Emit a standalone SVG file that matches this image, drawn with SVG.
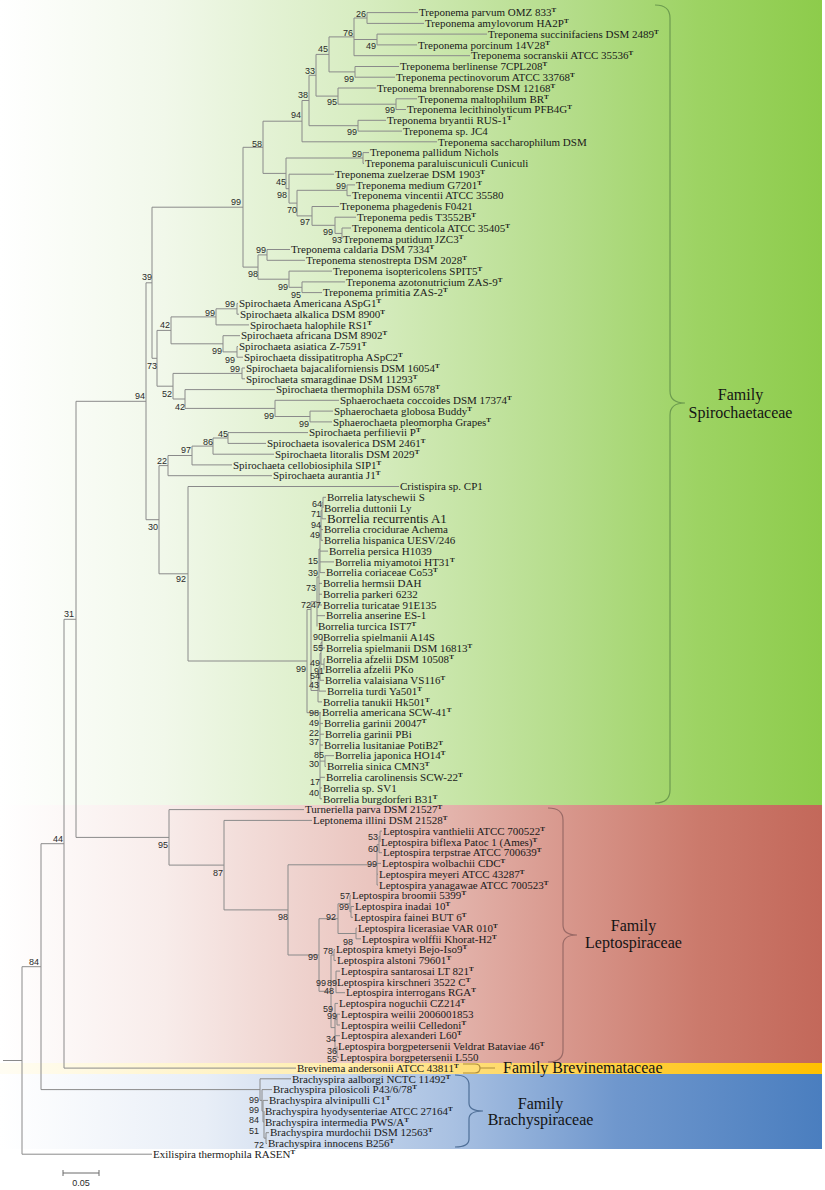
<svg xmlns="http://www.w3.org/2000/svg" width="825" height="1190" viewBox="0 0 825 1190">
<defs>
<linearGradient id="gG" gradientUnits="userSpaceOnUse" x1="0" y1="0" x2="822" y2="0">
<stop offset="0" stop-color="#ffffff"/><stop offset="0.2" stop-color="#f1f8ea"/><stop offset="0.45" stop-color="#d6ecbf"/><stop offset="0.7" stop-color="#b3dc88"/><stop offset="0.85" stop-color="#9dd363"/><stop offset="1" stop-color="#8dcc4b"/>
</linearGradient>
<linearGradient id="gR" gradientUnits="userSpaceOnUse" x1="0" y1="0" x2="822" y2="0">
<stop offset="0" stop-color="#ffffff"/><stop offset="0.2" stop-color="#f8ecea"/><stop offset="0.5" stop-color="#e7bdb6"/><stop offset="0.7" stop-color="#d7958a"/><stop offset="0.85" stop-color="#cb7a6c"/><stop offset="1" stop-color="#c3685a"/>
</linearGradient>
<linearGradient id="gY" gradientUnits="userSpaceOnUse" x1="0" y1="0" x2="822" y2="0">
<stop offset="0" stop-color="#fffdf3"/><stop offset="0.4" stop-color="#ffeeb0"/><stop offset="0.7" stop-color="#ffd24e"/><stop offset="1" stop-color="#ffc000"/>
</linearGradient>
<linearGradient id="gB" gradientUnits="userSpaceOnUse" x1="0" y1="0" x2="822" y2="0">
<stop offset="0" stop-color="#ffffff"/><stop offset="0.25" stop-color="#e8eef7"/><stop offset="0.55" stop-color="#a9c1e2"/><stop offset="0.75" stop-color="#6f97cd"/><stop offset="1" stop-color="#4a7ebf"/>
</linearGradient>
</defs>
<style>
.l{font-family:"Liberation Serif","Times New Roman",serif;font-size:11px;fill:#1a1a1a}
.big{font-size:13px}
.t{font-size:7px;font-weight:bold}
.b{font-family:"Liberation Sans",Arial,sans-serif;font-size:9px;fill:#2a2a2a;text-anchor:end}
.f{font-family:"Liberation Serif","Times New Roman",serif;font-size:16px;fill:#141414;text-anchor:middle}
.br{fill:none;stroke-width:1.2}
</style>
<g id="bands">
<rect x="0" y="0" width="822" height="805" fill="url(#gG)"/>
<rect x="0" y="805" width="822" height="258" fill="url(#gR)"/>
<rect x="0" y="1063" width="822" height="11" fill="url(#gY)"/>
<rect x="0" y="1074" width="822" height="75" fill="url(#gB)"/>
</g>
<g id="connectors" stroke="#8a8a8a" stroke-width="1" fill="none">
<path d="M367 12.6H418M367 23.4H424M377 34.1H487M377 44.9H417M354 55.7H470M355 66.5H399M355 77.2H395M338 88H376M396 98.8H417M396 109.5H406M358 120.3H386M358 131.1H402M302 141.8H437M363 152.6H369M363 163.4H364M289 174.2H334M347 184.9H355M347 195.7H351M312 206.5H339M335 217.2H356M342 228H351M267 249.5H290M267 260.3H305M289 271.1H332M302 281.9H345M302 292.6H322"/>
<path d="M367 12.6V23.4M354 18H367M377 34.1V44.9M354 39.5H377M354 18V55.7M329 36.9H354M355 66.5V77.2M329 71.9H355M329 36.9V71.9M316 54.4H329M396 98.8V109.5M338 104.2H396M338 88V104.2M316 96.1H338M316 54.4V96.1M309 75.3H316M358 120.3V131.1M309 125.7H358M309 75.3V125.7M302 100.5H309M302 100.5V141.8M263 121.2H302M363 152.6V163.4M286 158H363M347 184.9V195.7M297 190.3H347M342 228V238.8M335 233.4H342M335 217.2V233.4M312 225.3H335M312 206.5V225.3M297 215.9H312M297 190.3V215.9M289 203.1H297M289 174.2V203.1M286 188.7H289M286 158V188.7M263 173.4H286M263 121.2V173.4M243 147.3H263M267 249.5V260.3M258 254.9H267M302 281.9V292.6M289 287.3H302M289 271.1V287.3M258 279.2H289M258 254.9V279.2M243 267.1H258M243 147.3V267.1M152 207.2H243"/>
<path d="M237 303.4H238M237 314.2H239M216 324.9H249M223 335.7H240M237 346.5H238M237 357.2H243M242 368H245M242 378.8H245M185 389.6H275M275 400.3H339M310 411.1H333M310 421.9H332M228 432.6H308M228 443.4H266M213 454.2H274M192 464.9H232M168 475.7H272M188 486.5H399"/>
<path d="M237 303.4V314.2M216 308.8H237M216 308.8V324.9M171 316.9H216M237 346.5V357.2M223 351.9H237M223 335.7V351.9M171 343.8H223M171 316.9V343.8M157 330.4H171M242 368V378.8M173 373.4H242M310 411.1V421.9M275 416.5H310M275 400.3V416.5M185 408.4H275M185 389.6V408.4M173 399H185M173 373.4V399M157 386.2H173M157 330.4V386.2M152 358.3H157M152 207.2V358.3M146 282.8H152M228 432.6V443.4M213 438H228M213 438V454.2M192 446.1H213M192 446.1V464.9M168 455.5H192M168 455.5V475.7M159 465.6H168M188 486.5V661M159 573.8H188M159 465.6V573.8M146 519.7H159M146 282.8V519.7M76 401.3H146"/>
<path d="M323 497.3H326M322 518.8H326M321 529.6H323M321 540.3H323M320 551.1H328M320 561.9H334M320 572.6H325M319 583.4H322M319 594.2H322M319 605H322M317 615.7H325M323 497.3V508M322 502.7H323M322 502.7V518.8M321 510.7H322M321 510.7V540.3M320 525.5H321M320 525.5V572.6M319 549H320M319 549V605M317 577H319M317 577V626.5M311 601.7H317"/>
<path d="M322 648H325M324 658.8H325M320 680.3H324M319 691.1H326M318 701.9H322M322 637.3V648M321 642.6H322M324 658.8V669.6M321 664.2H324M321 642.6V664.2M320 653.4H321M320 653.4V680.3M319 666.9H320M319 666.9V691.1M318 679H319M318 679V701.9M311 690.5H318M311 601.7V690.5M307 609.5H311M307 609.5V712.7M188 661H307"/>
<path d="M307 712.7H321M320 723.4H323M320 734.2H324M320 745H323M325 755.7H334M325 766.5H326M320 777.3H325M320 788H322M320 798.8H322M320 712.7V798.8M325 755.7V766.5M320 761.1H325"/>
<path d="M169 809.6H304M224 820.4H312M380 831.1H382M379 852.7H382M377 863.4H381M377 874.2H378M377 885H378M380 831.1V841.9M379 836.5H380M379 836.5V852.7M377 844.6H379M377 844.6V885M288 864.8H377"/>
<path d="M350 895.7H351M351 906.5H354M351 917.3H353M351 906.5V917.3M350 911.9H351M350 895.7V911.9M338 903.8H350M356 928.1H357M356 938.8H361M356 928.1V938.8M338 933.5H356M338 903.8V933.5M319 918.7H338"/>
<path d="M334 949.6H335M334 960.4H336M334 949.6V960.4M331 955H334M336 971.1H340M336 992.7H345M336 971.1V992.7M331 981.9H336M335 1003.4H338M337 1014.2H340M337 1025H340M337 1014.2V1025M335 1019.6H337M335 1035.7H340M337 1057.3H339M337 1046.5V1057.3M335 1051.9H337M335 1003.4V1051.9M331 1027.6H335M331 955V1027.6M319 991.3H331M319 918.7V991.3M288 955H319M288 864.8V955M224 909.9H288M224 820.4V909.9M169 865.1H224M169 809.6V865.1M76 837.4H169M76 401.3V837.4M64 619.3H76"/>
<path d="M64 1068.1H296M64 619.3V1068.1M41 843.7H64M260 1078.8H291M262 1089.6H272M263 1100.4H268M266 1132.7H269M266 1143.5H267M260 1078.8V1100.4M41 1089.6H260M262 1089.6V1111.1M260 1100.4H262M263 1100.4V1121.9M262 1111.1H263M264 1111.1V1138.1M263 1121.9H264M266 1132.7V1143.5M264 1138.1H266M41 843.7V1089.6M22 966.7H41M22 1154.2H152M22 966.7V1154.2M3 1060.5H22"/>
</g>
<g id="bootstrap">
<text class="b" x="366" y="17">26</text>
<text class="b" x="353" y="36">76</text>
<text class="b" x="376" y="49">49</text>
<text class="b" x="328" y="52">45</text>
<text class="b" x="354" y="82">99</text>
<text class="b" x="315" y="74">33</text>
<text class="b" x="337" y="105">95</text>
<text class="b" x="395" y="113">99</text>
<text class="b" x="308" y="98">38</text>
<text class="b" x="357" y="135">99</text>
<text class="b" x="301" y="118">94</text>
<text class="b" x="262" y="147">58</text>
<text class="b" x="362" y="157">99</text>
<text class="b" x="286" y="185">45</text>
<text class="b" x="346" y="189">99</text>
<text class="b" x="287" y="198">98</text>
<text class="b" x="297" y="213">70</text>
<text class="b" x="310" y="225">97</text>
<text class="b" x="333" y="235">99</text>
<text class="b" x="342" y="243">93</text>
<text class="b" x="241" y="205">99</text>
<text class="b" x="266" y="253">99</text>
<text class="b" x="258" y="277">98</text>
<text class="b" x="288" y="290">99</text>
<text class="b" x="301" y="298">95</text>
<text class="b" x="235" y="307">99</text>
<text class="b" x="215" y="316">99</text>
<text class="b" x="170" y="328">42</text>
<text class="b" x="222" y="354">99</text>
<text class="b" x="235" y="363">99</text>
<text class="b" x="152" y="280">39</text>
<text class="b" x="157" y="369">73</text>
<text class="b" x="240" y="372">99</text>
<text class="b" x="172" y="397">52</text>
<text class="b" x="185" y="410">42</text>
<text class="b" x="274" y="419">99</text>
<text class="b" x="309" y="427">99</text>
<text class="b" x="145" y="399">94</text>
<text class="b" x="228" y="437">45</text>
<text class="b" x="213" y="445">86</text>
<text class="b" x="191" y="453">97</text>
<text class="b" x="167" y="464">22</text>
<text class="b" x="158" y="530">30</text>
<text class="b" x="186" y="582">92</text>
<text class="b" x="74" y="617">31</text>
<text class="b" x="322" y="507">64</text>
<text class="b" x="321" y="517">71</text>
<text class="b" x="321" y="528">94</text>
<text class="b" x="320" y="538">49</text>
<text class="b" x="318" y="564">15</text>
<text class="b" x="318" y="576">39</text>
<text class="b" x="316" y="591">73</text>
<text class="b" x="311" y="608">72</text>
<text class="b" x="321" y="608">47</text>
<text class="b" x="323" y="640">90</text>
<text class="b" x="323" y="651">55</text>
<text class="b" x="320" y="666">49</text>
<text class="b" x="324" y="674">91</text>
<text class="b" x="306" y="672">99</text>
<text class="b" x="320" y="679">54</text>
<text class="b" x="319" y="688">43</text>
<text class="b" x="319" y="716">98</text>
<text class="b" x="319" y="726">49</text>
<text class="b" x="319" y="736">22</text>
<text class="b" x="319" y="745">37</text>
<text class="b" x="324" y="758">85</text>
<text class="b" x="319" y="767">30</text>
<text class="b" x="320" y="785">17</text>
<text class="b" x="319" y="796">40</text>
<text class="b" x="168" y="848">95</text>
<text class="b" x="223" y="876">87</text>
<text class="b" x="378" y="840">53</text>
<text class="b" x="378" y="852">60</text>
<text class="b" x="377" y="867">99</text>
<text class="b" x="288" y="920">98</text>
<text class="b" x="350" y="899">57</text>
<text class="b" x="349" y="910">99</text>
<text class="b" x="336" y="920">92</text>
<text class="b" x="353" y="945">98</text>
<text class="b" x="318" y="960">99</text>
<text class="b" x="333" y="954">78</text>
<text class="b" x="326" y="986">99</text>
<text class="b" x="337" y="986">89</text>
<text class="b" x="334" y="994">48</text>
<text class="b" x="333" y="1012">59</text>
<text class="b" x="337" y="1019">99</text>
<text class="b" x="336" y="1042">34</text>
<text class="b" x="337" y="1054">36</text>
<text class="b" x="337" y="1062">55</text>
<text class="b" x="63" y="842">44</text>
<text class="b" x="39" y="965">84</text>
<text class="b" x="259" y="1103">99</text>
<text class="b" x="259" y="1113">99</text>
<text class="b" x="259" y="1123">84</text>
<text class="b" x="259" y="1134">51</text>
<text class="b" x="264" y="1148">72</text>
</g>
<g id="leaves">
<g id="leaf-0"><text class="l" x="419" y="16.3">Treponema parvum OMZ 833<tspan class="t" dy="-4">T</tspan></text></g>
<g id="leaf-1"><text class="l" x="425" y="27.1">Treponema amylovorum HA2P<tspan class="t" dy="-4">T</tspan></text></g>
<g id="leaf-2"><text class="l" x="488" y="37.8">Treponema succinifaciens DSM 2489<tspan class="t" dy="-4">T</tspan></text></g>
<g id="leaf-3"><text class="l" x="418" y="48.6">Treponema porcinum 14V28<tspan class="t" dy="-4">T</tspan></text></g>
<g id="leaf-4"><text class="l" x="471" y="59.4">Treponema socranskii ATCC 35536<tspan class="t" dy="-4">T</tspan></text></g>
<g id="leaf-5"><text class="l" x="400" y="70.2">Treponema berlinense 7CPL208<tspan class="t" dy="-4">T</tspan></text></g>
<g id="leaf-6"><text class="l" x="396" y="80.9">Treponema pectinovorum ATCC 33768<tspan class="t" dy="-4">T</tspan></text></g>
<g id="leaf-7"><text class="l" x="377" y="91.7">Treponema brennaborense DSM 12168<tspan class="t" dy="-4">T</tspan></text></g>
<g id="leaf-8"><text class="l" x="418" y="102.5">Treponema maltophilum BR<tspan class="t" dy="-4">T</tspan></text></g>
<g id="leaf-9"><text class="l" x="407" y="113.2">Treponema lecithinolyticum PFB4G<tspan class="t" dy="-4">T</tspan></text></g>
<g id="leaf-10"><text class="l" x="387" y="124">Treponema bryantii RUS-1<tspan class="t" dy="-4">T</tspan></text></g>
<g id="leaf-11"><text class="l" x="403" y="134.8">Treponema sp. JC4</text></g>
<g id="leaf-12"><text class="l" x="438" y="145.5">Treponema saccharophilum DSM</text></g>
<g id="leaf-13"><text class="l" x="370" y="156.3">Treponema pallidum Nichols</text></g>
<g id="leaf-14"><text class="l" x="365" y="167.1">Treponema paraluiscuniculi Cuniculi</text></g>
<g id="leaf-15"><text class="l" x="335" y="177.9">Treponema zuelzerae DSM 1903<tspan class="t" dy="-4">T</tspan></text></g>
<g id="leaf-16"><text class="l" x="356" y="188.6">Treponema medium G7201<tspan class="t" dy="-4">T</tspan></text></g>
<g id="leaf-17"><text class="l" x="352" y="199.4">Treponema vincentii ATCC 35580</text></g>
<g id="leaf-18"><text class="l" x="340" y="210.2">Treponema phagedenis F0421</text></g>
<g id="leaf-19"><text class="l" x="357" y="220.9">Treponema pedis T3552B<tspan class="t" dy="-4">T</tspan></text></g>
<g id="leaf-20"><text class="l" x="352" y="231.7">Treponema denticola ATCC 35405<tspan class="t" dy="-4">T</tspan></text></g>
<g id="leaf-21"><text class="l" x="343" y="242.5">Treponema putidum JZC3<tspan class="t" dy="-4">T</tspan></text></g>
<g id="leaf-22"><text class="l" x="291" y="253.2">Treponema caldaria DSM 7334<tspan class="t" dy="-4">T</tspan></text></g>
<g id="leaf-23"><text class="l" x="306" y="264">Treponema stenostrepta DSM 2028<tspan class="t" dy="-4">T</tspan></text></g>
<g id="leaf-24"><text class="l" x="333" y="274.8">Treponema isoptericolens SPIT5<tspan class="t" dy="-4">T</tspan></text></g>
<g id="leaf-25"><text class="l" x="346" y="285.6">Treponema azotonutricium ZAS-9<tspan class="t" dy="-4">T</tspan></text></g>
<g id="leaf-26"><text class="l" x="323" y="296.3">Treponema primitia ZAS-2<tspan class="t" dy="-4">T</tspan></text></g>
<g id="leaf-27"><text class="l" x="239" y="307.1">Spirochaeta Americana ASpG1<tspan class="t" dy="-4">T</tspan></text></g>
<g id="leaf-28"><text class="l" x="240" y="317.9">Spirochaeta alkalica DSM 8900<tspan class="t" dy="-4">T</tspan></text></g>
<g id="leaf-29"><text class="l" x="250" y="328.6">Spirochaeta halophile RS1<tspan class="t" dy="-4">T</tspan></text></g>
<g id="leaf-30"><text class="l" x="241" y="339.4">Spirochaeta africana DSM 8902<tspan class="t" dy="-4">T</tspan></text></g>
<g id="leaf-31"><text class="l" x="239" y="350.2">Spirochaeta asiatica Z-7591<tspan class="t" dy="-4">T</tspan></text></g>
<g id="leaf-32"><text class="l" x="244" y="360.9">Spirochaeta dissipatitropha ASpC2<tspan class="t" dy="-4">T</tspan></text></g>
<g id="leaf-33"><text class="l" x="246" y="371.7">Spirochaeta bajacaliforniensis DSM 16054<tspan class="t" dy="-4">T</tspan></text></g>
<g id="leaf-34"><text class="l" x="246" y="382.5">Spirochaeta smaragdinae DSM 11293<tspan class="t" dy="-4">T</tspan></text></g>
<g id="leaf-35"><text class="l" x="276" y="393.3">Spirochaeta thermophila DSM 6578<tspan class="t" dy="-4">T</tspan></text></g>
<g id="leaf-36"><text class="l" x="340" y="404">Sphaerochaeta coccoides DSM 17374<tspan class="t" dy="-4">T</tspan></text></g>
<g id="leaf-37"><text class="l" x="334" y="414.8">Sphaerochaeta globosa Buddy<tspan class="t" dy="-4">T</tspan></text></g>
<g id="leaf-38"><text class="l" x="333" y="425.6">Sphaerochaeta pleomorpha Grapes<tspan class="t" dy="-4">T</tspan></text></g>
<g id="leaf-39"><text class="l" x="309" y="436.3">Spirochaeta perfilievii P<tspan class="t" dy="-4">T</tspan></text></g>
<g id="leaf-40"><text class="l" x="267" y="447.1">Spirochaeta isovalerica DSM 2461<tspan class="t" dy="-4">T</tspan></text></g>
<g id="leaf-41"><text class="l" x="275" y="457.9">Spirochaeta litoralis DSM 2029<tspan class="t" dy="-4">T</tspan></text></g>
<g id="leaf-42"><text class="l" x="233" y="468.6">Spirochaeta cellobiosiphila SIP1<tspan class="t" dy="-4">T</tspan></text></g>
<g id="leaf-43"><text class="l" x="273" y="479.4">Spirochaeta aurantia J1<tspan class="t" dy="-4">T</tspan></text></g>
<g id="leaf-44"><text class="l" x="400" y="490.2">Cristispira sp. CP1</text></g>
<g id="leaf-45"><text class="l" x="327" y="501">Borrelia latyschewii S</text></g>
<g id="leaf-46"><text class="l" x="324" y="511.7">Borrelia duttonii Ly</text></g>
<g id="leaf-47"><text class="l big" x="327" y="523.3">Borrelia recurrentis A1</text></g>
<g id="leaf-48"><text class="l" x="324" y="533.3">Borrelia crocidurae Achema</text></g>
<g id="leaf-49"><text class="l" x="324" y="544">Borrelia hispanica UESV/246</text></g>
<g id="leaf-50"><text class="l" x="329" y="554.8">Borrelia persica H1039</text></g>
<g id="leaf-51"><text class="l" x="335" y="565.6">Borrelia miyamotoi HT31<tspan class="t" dy="-4">T</tspan></text></g>
<g id="leaf-52"><text class="l" x="326" y="576.3">Borrelia coriaceae Co53<tspan class="t" dy="-4">T</tspan></text></g>
<g id="leaf-53"><text class="l" x="323" y="587.1">Borrelia hermsii DAH</text></g>
<g id="leaf-54"><text class="l" x="323" y="597.9">Borrelia parkeri 6232</text></g>
<g id="leaf-55"><text class="l" x="323" y="608.7">Borrelia turicatae 91E135</text></g>
<g id="leaf-56"><text class="l" x="326" y="619.4">Borrelia anserine ES-1</text></g>
<g id="leaf-57"><text class="l" x="318" y="630.2">Borrelia turcica IST7<tspan class="t" dy="-4">T</tspan></text></g>
<g id="leaf-58"><text class="l" x="323" y="641">Borrelia spielmanii A14S</text></g>
<g id="leaf-59"><text class="l" x="326" y="651.7">Borrelia spielmanii DSM 16813<tspan class="t" dy="-4">T</tspan></text></g>
<g id="leaf-60"><text class="l" x="326" y="662.5">Borrelia afzelii DSM 10508<tspan class="t" dy="-4">T</tspan></text></g>
<g id="leaf-61"><text class="l" x="325" y="673.3">Borrelia afzelii PKo</text></g>
<g id="leaf-62"><text class="l" x="325" y="684">Borrelia valaisiana VS116<tspan class="t" dy="-4">T</tspan></text></g>
<g id="leaf-63"><text class="l" x="327" y="694.8">Borrelia turdi Ya501<tspan class="t" dy="-4">T</tspan></text></g>
<g id="leaf-64"><text class="l" x="323" y="705.6">Borrelia tanukii Hk501<tspan class="t" dy="-4">T</tspan></text></g>
<g id="leaf-65"><text class="l" x="322" y="716.4">Borrelia americana SCW-41<tspan class="t" dy="-4">T</tspan></text></g>
<g id="leaf-66"><text class="l" x="324" y="727.1">Borrelia garinii 20047<tspan class="t" dy="-4">T</tspan></text></g>
<g id="leaf-67"><text class="l" x="325" y="737.9">Borrelia garinii PBi</text></g>
<g id="leaf-68"><text class="l" x="324" y="748.7">Borrelia lusitaniae PotiB2<tspan class="t" dy="-4">T</tspan></text></g>
<g id="leaf-69"><text class="l" x="335" y="759.4">Borrelia japonica HO14<tspan class="t" dy="-4">T</tspan></text></g>
<g id="leaf-70"><text class="l" x="327" y="770.2">Borrelia sinica CMN3<tspan class="t" dy="-4">T</tspan></text></g>
<g id="leaf-71"><text class="l" x="326" y="781">Borrelia carolinensis SCW-22<tspan class="t" dy="-4">T</tspan></text></g>
<g id="leaf-72"><text class="l" x="323" y="791.7">Borrelia sp. SV1</text></g>
<g id="leaf-73"><text class="l" x="323" y="802.5">Borrelia burgdorferi B31<tspan class="t" dy="-4">T</tspan></text></g>
<g id="leaf-74"><text class="l" x="305" y="813.3">Turneriella parva DSM 21527<tspan class="t" dy="-4">T</tspan></text></g>
<g id="leaf-75"><text class="l" x="313" y="824.1">Leptonema illini DSM 21528<tspan class="t" dy="-4">T</tspan></text></g>
<g id="leaf-76"><text class="l" x="383" y="834.8">Leptospira vanthielii ATCC 700522<tspan class="t" dy="-4">T</tspan></text></g>
<g id="leaf-77"><text class="l" x="381" y="845.6">Leptospira biflexa Patoc 1 (Ames)<tspan class="t" dy="-4">T</tspan></text></g>
<g id="leaf-78"><text class="l" x="383" y="856.4">Leptospira terpstrae ATCC 700639<tspan class="t" dy="-4">T</tspan></text></g>
<g id="leaf-79"><text class="l" x="382" y="867.1">Leptospira wolbachii CDC<tspan class="t" dy="-4">T</tspan></text></g>
<g id="leaf-80"><text class="l" x="379" y="877.9">Leptospira meyeri ATCC 43287<tspan class="t" dy="-4">T</tspan></text></g>
<g id="leaf-81"><text class="l" x="379" y="888.7">Leptospira yanagawae ATCC 700523<tspan class="t" dy="-4">T</tspan></text></g>
<g id="leaf-82"><text class="l" x="352" y="899.4">Leptospira broomii 5399<tspan class="t" dy="-4">T</tspan></text></g>
<g id="leaf-83"><text class="l" x="355" y="910.2">Leptospira inadai 10<tspan class="t" dy="-4">T</tspan></text></g>
<g id="leaf-84"><text class="l" x="354" y="921">Leptospira fainei BUT 6<tspan class="t" dy="-4">T</tspan></text></g>
<g id="leaf-85"><text class="l" x="358" y="931.8">Leptospira licerasiae VAR 010<tspan class="t" dy="-4">T</tspan></text></g>
<g id="leaf-86"><text class="l" x="362" y="942.5">Leptospira wolffii Khorat-H2<tspan class="t" dy="-4">T</tspan></text></g>
<g id="leaf-87"><text class="l" x="336" y="953.3">Leptospira kmetyi Bejo-Iso9<tspan class="t" dy="-4">T</tspan></text></g>
<g id="leaf-88"><text class="l" x="337" y="964.1">Leptospira alstoni 79601<tspan class="t" dy="-4">T</tspan></text></g>
<g id="leaf-89"><text class="l" x="341" y="974.8">Leptospira santarosai LT 821<tspan class="t" dy="-4">T</tspan></text></g>
<g id="leaf-90"><text class="l" x="337" y="985.6">Leptospira kirschneri 3522 C<tspan class="t" dy="-4">T</tspan></text></g>
<g id="leaf-91"><text class="l" x="346" y="996.4">Leptospira interrogans RGA<tspan class="t" dy="-4">T</tspan></text></g>
<g id="leaf-92"><text class="l" x="339" y="1007.1">Leptospira noguchii CZ214<tspan class="t" dy="-4">T</tspan></text></g>
<g id="leaf-93"><text class="l" x="341" y="1017.9">Leptospira weilii 2006001853</text></g>
<g id="leaf-94"><text class="l" x="341" y="1028.7">Leptospira weilii Celledoni<tspan class="t" dy="-4">T</tspan></text></g>
<g id="leaf-95"><text class="l" x="341" y="1039.4">Leptospira alexanderi L60<tspan class="t" dy="-4">T</tspan></text></g>
<g id="leaf-96"><text class="l" x="338" y="1050.2">Leptospira borgpetersenii Veldrat Bataviae 46<tspan class="t" dy="-4">T</tspan></text></g>
<g id="leaf-97"><text class="l" x="340" y="1061">Leptospira borgpetersenii L550</text></g>
<g id="leaf-98"><text class="l" x="297" y="1071.8">Brevinema andersonii ATCC 43811<tspan class="t" dy="-4">T</tspan></text></g>
<g id="leaf-99"><text class="l" x="292" y="1082.5">Brachyspira aalborgi NCTC 11492<tspan class="t" dy="-4">T</tspan></text></g>
<g id="leaf-100"><text class="l" x="273" y="1093.3">Brachyspira pilosicoli P43/6/78<tspan class="t" dy="-4">T</tspan></text></g>
<g id="leaf-101"><text class="l" x="269" y="1104.1">Brachyspira alvinipulli C1<tspan class="t" dy="-4">T</tspan></text></g>
<g id="leaf-102"><text class="l" x="265" y="1114.8">Brachyspira hyodysenteriae ATCC 27164<tspan class="t" dy="-4">T</tspan></text></g>
<g id="leaf-103"><text class="l" x="265" y="1125.6">Brachyspira intermedia PWS/A<tspan class="t" dy="-4">T</tspan></text></g>
<g id="leaf-104"><text class="l" x="270" y="1136.4">Brachyspira murdochii DSM 12563<tspan class="t" dy="-4">T</tspan></text></g>
<g id="leaf-105"><text class="l" x="268" y="1147.2">Brachyspira innocens B256<tspan class="t" dy="-4">T</tspan></text></g>
<g id="leaf-106"><text class="l" x="153" y="1157.9">Exilispira thermophila RASEN<tspan class="t" dy="-4">T</tspan></text></g>
</g>
<g id="family-spirochaetaceae">
<path class="br" stroke="#6d9c4f" d="M655 5Q670 5 670 18V391Q670 403 685 403Q670 403 670 415V790Q670 803 655 803"/>
<text class="f" x="740.5" y="400">Family</text>
<text class="f" x="740.5" y="418">Spirochaetaceae</text>
</g>
<g id="family-leptospiraceae">
<path class="br" stroke="#9a6a66" d="M548 808Q563 808 563 820V925Q563 935 577 935Q563 935 563 945V1050Q563 1062 548 1062"/>
<text class="f" x="633.5" y="931">Family</text>
<text class="f" x="633.5" y="948">Leptospiraceae</text>
</g>
<g id="family-brevinemataceae">
<path class="br" stroke="#b08d3c" d="M463 1064H475Q480 1064 480 1068H495M480 1068Q480 1073 475 1073H463"/>
<text class="f" x="503" y="1073" style="text-anchor:start">Family Brevinemataceae</text>
</g>
<g id="family-brachyspiraceae">
<path class="br" stroke="#4f6f97" d="M455 1075Q469 1075 469 1085V1103Q469 1111 483 1111Q469 1111 469 1119V1139Q469 1147 455 1147"/>
<text class="f" x="540.5" y="1109">Family</text>
<text class="f" x="540.5" y="1125">Brachyspiraceae</text>
</g>
<g id="scale-bar">
<path d="M63 1173H99M63 1170V1176M99 1170V1176" stroke="#6a6a6a" stroke-width="1" fill="none"/>
<text x="81" y="1186" style="font-family:'Liberation Sans',Arial,sans-serif;font-size:9px;fill:#2a2a2a;text-anchor:middle">0.05</text>
</g>
</svg>
